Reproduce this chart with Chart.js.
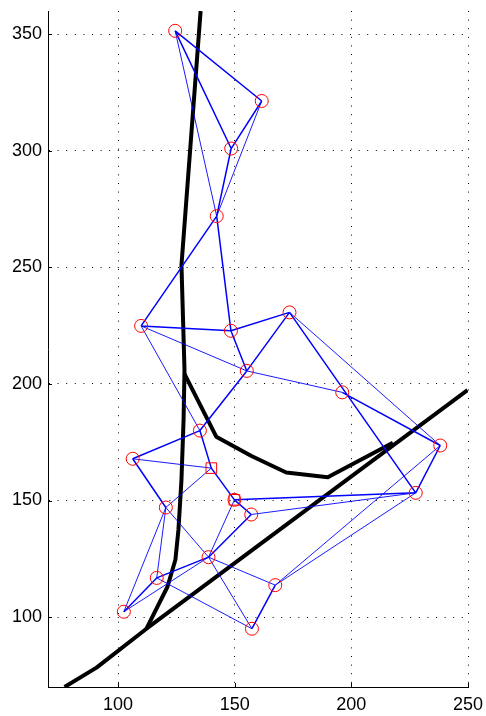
<!DOCTYPE html>
<html>
<head>
<meta charset="utf-8">
<script src="https://cdn.jsdelivr.net/npm/chart.js@4/dist/chart.umd.min.js"></script>
<style>
  html, body { margin: 0; padding: 0; background: #ffffff; }
  canvas { display: block; }
</style>
</head>
<body>
<canvas id="c" width="486" height="716" style="width:486px;height:716px"></canvas>
<script>
// ---- data ----
const xTicks = [100, 150, 200, 250];
const yTicks = [100, 150, 200, 250, 300, 350];

// node coordinates (node n is at index n-1)
const nodeX = [124.5, 161.6, 148.5, 142.3, 109.9, 148.4, 173.5, 155.2, 196.1, 135.1, 238.1,
               106.3, 140.0, 149.9, 227.6, 120.5, 157.1, 138.8, 116.6, 167.4, 102.5, 157.4];
const nodeY = [351.5, 321.4, 301.0, 272.0, 224.9, 222.8, 230.7, 205.6, 196.4, 180.0, 173.6,
               167.9, 163.9, 150.3, 153.3, 147.0, 144.0, 125.7, 116.8, 113.7, 102.3, 95.0];

// which nodes carry circle / square markers
const circleNodes = [1,2,3,4,5,6,7,8,9,10,11,12,14,15,16,17,18,19,20,21,22];
const squareNodes = [13, 14];

// network edges
const edgesThick = [[1,2],[1,3],[2,3],[3,4],[4,5],[4,6],[5,6],[6,7],[6,8],[7,8],[8,10],
                    [9,11],[7,15],[11,15],[14,15],[10,12],[10,13],[12,16],[13,14],[14,17],
                    [17,18],[19,21],[18,19],[20,22]];
const edgesThin  = [[1,4],[2,4],[5,8],[5,10],[8,9],[7,11],[11,20],[15,20],[15,17],[12,13],
                    [13,16],[14,18],[16,18],[16,19],[16,21],[18,21],[19,22],[18,20],[18,22]];

// thick black curves
const curveAX = [135.4, 127.2, 128.5, 128.1, 127.2, 125.9, 124.6, 121.2, 112.2];
const curveAY = [360.0, 251.0, 206.0, 184.6, 158.9, 137.4, 124.6, 113.0, 95.0];
const curveBX = [128.5, 142.1, 157.2, 172.1, 189.9, 217.8];
const curveBY = [204.3, 177.4, 169.1, 162.0, 160.0, 174.8];
const curveCX = [77.1, 90.8, 112.2, 249.8];
const curveCY = [70.0, 78.3, 95.0, 197.4];

// ---- build datasets ----
function edgeData(edges) {
  const out = [];
  edges.forEach(([a, b]) => {
    out.push({x: nodeX[a-1], y: nodeY[a-1]});
    out.push({x: nodeX[b-1], y: nodeY[b-1]});
    out.push({x: null, y: null});
  });
  return out;
}
function curveData(xs, ys) { return xs.map((x, i) => ({x: x, y: ys[i]})); }
function nodeData(list) { return list.map(n => ({x: nodeX[n-1], y: nodeY[n-1]})); }

const lineCommon = { showLine: true, pointRadius: 0, pointHoverRadius: 0, spanGaps: false, tension: 0, fill: false };

const inwardTicks = {
  id: 'inwardTicks',
  afterDraw(chart) {
    const {ctx, chartArea: a, scales: {x, y}} = chart;
    ctx.save();
    ctx.strokeStyle = '#000';
    ctx.lineWidth = 1;
    ctx.beginPath();
    xTicks.forEach(v => { const px = Math.round(x.getPixelForValue(v)) + 0.5; ctx.moveTo(px, a.bottom); ctx.lineTo(px, a.bottom - 4); });
    yTicks.forEach(v => { const py = Math.round(y.getPixelForValue(v)) + 0.5; ctx.moveTo(a.left, py); ctx.lineTo(a.left + 4, py); });
    ctx.stroke();
    ctx.restore();
  }
};

new Chart(document.getElementById('c'), {
  type: 'scatter',
  data: {
    datasets: [
      { data: nodeData(squareNodes), pointStyle: 'rect', pointRadius: 7.5, borderColor: '#ff0000', backgroundColor: 'rgba(0,0,0,0)', borderWidth: 1, showLine: false },
      { data: nodeData(circleNodes), pointStyle: 'circle', pointRadius: 6.5, borderColor: '#ff0000', backgroundColor: 'rgba(0,0,0,0)', borderWidth: 1, showLine: false },
      Object.assign({ data: edgeData(edgesThick), borderColor: '#0000ff', borderWidth: 1.5 }, lineCommon),
      Object.assign({ data: edgeData(edgesThin), borderColor: '#0000ff', borderWidth: 0.9 }, lineCommon),
      Object.assign({ data: curveData(curveBX, curveBY), borderColor: '#000000', borderWidth: 4, borderJoinStyle: 'round' }, lineCommon),
      Object.assign({ data: curveData(curveCX, curveCY), borderColor: '#000000', borderWidth: 4, borderJoinStyle: 'round' }, lineCommon),
      Object.assign({ data: curveData(curveAX, curveAY), borderColor: '#000000', borderWidth: 4, borderJoinStyle: 'round' }, lineCommon)
    ]
  },
  options: {
    responsive: false,
    animation: false,
    devicePixelRatio: 1,
    layout: { padding: { left: 0, top: 11, right: 18, bottom: 0 } },
    plugins: { legend: { display: false }, tooltip: { enabled: false } },
    scales: {
      x: {
        type: 'linear', min: 70, max: 250,
        afterBuildTicks: s => { s.ticks = xTicks.map(v => ({value: v})); },
        afterFit: s => { s.height = 29; s.paddingLeft = 0; s.paddingRight = 0; },
        ticks: { autoSkip: false, maxRotation: 0, padding: 7, color: '#000', font: { family: 'Liberation Sans, Arial, sans-serif', size: 18 } },
        grid: { display: true, color: '#000', lineWidth: 1, drawTicks: false },
        border: { display: true, color: '#000', width: 1, dash: [1, 7.6] }
      },
      y: {
        type: 'linear', min: 70, max: 360,
        afterBuildTicks: s => { s.ticks = yTicks.map(v => ({value: v})); },
        afterFit: s => { s.width = 48; s.paddingTop = 0; s.paddingBottom = 0; },
        ticks: { autoSkip: false, padding: 6, color: '#000', font: { family: 'Liberation Sans, Arial, sans-serif', size: 18 } },
        grid: { display: true, color: '#000', lineWidth: 1, drawTicks: false },
        border: { display: true, color: '#000', width: 1, dash: [1, 7.6] }
      }
    }
  },
  plugins: [inwardTicks]
});
</script>
</body>
</html>
